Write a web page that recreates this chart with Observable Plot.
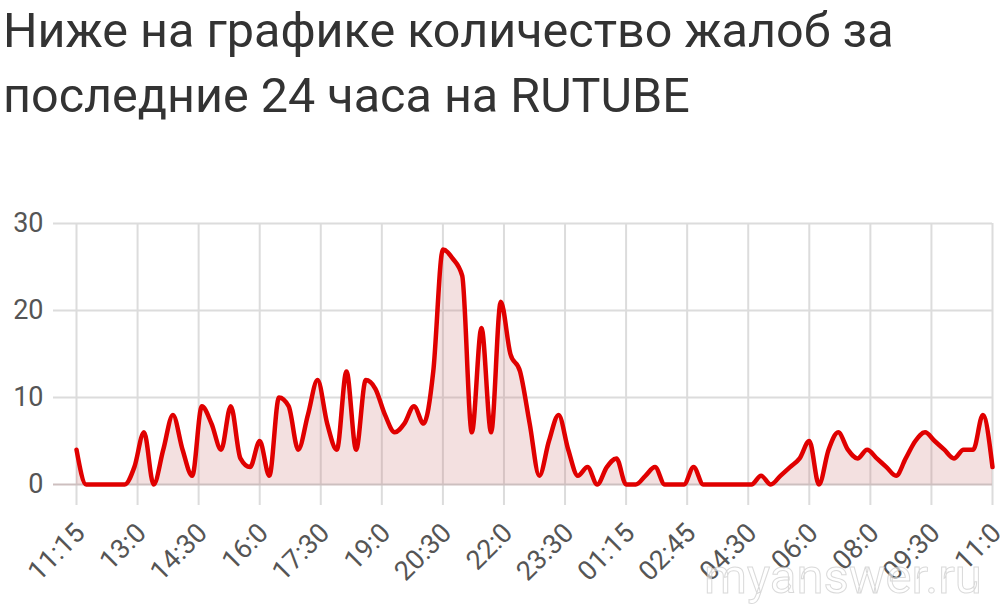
<!DOCTYPE html>
<html><head><meta charset="utf-8">
<script src="https://cdn.jsdelivr.net/npm/d3@7"></script>
<script src="https://cdn.jsdelivr.net/npm/@observablehq/plot@0.6"></script>
<style>
body{margin:0;background:#fff;width:1000px;height:607px;overflow:hidden;font-family:Roboto,sans-serif;position:relative}
#title{position:absolute;left:3px;top:-2px;font-size:48.5px;line-height:65px;color:#333;font-weight:400;white-space:nowrap}
#chart{position:absolute;left:0;top:150px}
#wm{position:absolute;left:704px;top:548px;font-family:Roboto,sans-serif;font-size:49px;color:rgba(255,255,255,0.6);-webkit-text-stroke:1px rgba(185,185,185,0.55);white-space:nowrap}
</style></head><body>
<div id="title">Ниже на графике количество жалоб за<br>последние 24 часа на RUTUBE</div>
<div id="chart"></div>
<div id="wm">myanswer.ru</div>
<script>
const tickLabels = ["11:15","13:0","14:30","16:0","17:30","19:0","20:30","22:0","23:30","01:15","02:45","04:30","06:0","08:0","09:30","11:0"];
const yTicks = [0, 10, 20, 30];
const counts = [
  4, 0, 0, 0, 0, 0, 2, 6, 0, 4,
  8, 4, 1, 9, 7, 4, 9, 3, 2, 5,
  1, 10, 9, 4, 8, 12, 7, 4, 13, 4,
  12, 11, 8, 6, 7, 9, 7, 13, 27, 26,
  24, 6, 18, 6, 21, 15, 13, 7, 1, 5,
  8, 4, 1, 2, 0, 2, 3, 0, 0, 1,
  2, 0, 0, 0, 2, 0, 0, 0, 0, 0,
  0, 1, 0, 1, 2, 3, 5, 0, 4, 6,
  4, 3, 4, 3, 2, 1, 3, 5, 6, 5,
  4, 3, 4, 4, 8, 2
];
const data = counts.map((v, i) => ({i, v}));
const last = counts.length - 1;
const tickPos = tickLabels.map((_, k) => k * last / (tickLabels.length - 1));

const chart = Plot.plot({
  width: 1000, height: 457,
  marginTop: 73, marginBottom: 123, marginLeft: 76, marginRight: 8,
  x: {domain: [0, last]},
  y: {domain: [0, 30]},
  style: {fontFamily: "Roboto, sans-serif", fontSize: "27px", color: "#555", background: "transparent", overflow: "visible"},
  marks: [
    Plot.ruleY(yTicks.filter(d => d > 0), {stroke: "#dcdcdc", strokeWidth: 2, insetLeft: -23}),
    Plot.ruleX(tickPos, {stroke: "#dcdcdc", strokeWidth: 2, insetBottom: -21}),
    Plot.areaY(data, {x: "i", y: "v", curve: "monotone-x", fill: "#c87070", fillOpacity: 0.22}),
    Plot.ruleY([0], {stroke: "#cdbfbf", strokeWidth: 2, insetLeft: -23}),
    Plot.lineY(data, {x: "i", y: "v", curve: "monotone-x", stroke: "#e00000", strokeWidth: 4.5}),
    Plot.axisY({ticks: yTicks, tickSize: 0, tickPadding: 33, label: null, fill: "#555"}),
    Plot.axisX({ticks: tickPos, tickFormat: d => tickLabels[Math.round(d * (tickLabels.length - 1) / last)], tickRotate: -45, tickSize: 0, tickPadding: 44, dx: 4, label: null, fill: "#555"})
  ]
});
document.getElementById("chart").appendChild(chart);
</script>
</body></html>
